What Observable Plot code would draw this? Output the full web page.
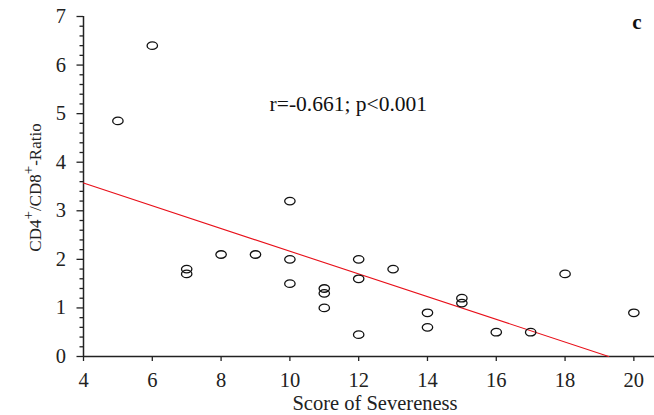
<!DOCTYPE html>
<html>
<head>
<meta charset="utf-8">
<script src="https://cdn.jsdelivr.net/npm/d3@7"></script>
<script src="https://cdn.jsdelivr.net/npm/@observablehq/plot@0.6"></script>
<style>
  html, body { margin: 0; padding: 0; background: #fff; }
  #chart svg { display: block; }
</style>
</head>
<body>
<div id="chart"></div>
<script>
// Data
const severity = [5, 6, 7, 7, 8, 9, 10, 10, 10, 11, 11, 11, 12, 12, 12, 13, 14, 14, 15, 15, 16, 17, 18, 20];
const ratio    = [4.85, 6.4, 1.8, 1.7, 2.1, 2.1, 3.2, 2.0, 1.5, 1.4, 1.3, 1.0, 2.0, 1.6, 0.45, 1.8, 0.9, 0.6, 1.2, 1.1, 0.5, 0.5, 1.7, 0.9];
// Regression line end points
const fitX = [4, 19.27];
const fitY = [3.57, 0];
// Tick values
const xTicks = [4, 6, 8, 10, 12, 14, 16, 18, 20];
const yTicks = [0, 1, 2, 3, 4, 5, 6, 7];
const yMinor = d3.range(0, 35).map(i => i / 5).filter(v => Math.abs(v - Math.round(v)) > 1e-9);
// Texts
const statText = "r=-0.661; p<0.001";
const panelLetter = "c";
const xLabel = "Score of Severeness";

const points = severity.map((s, i) => ({severity: s, ratio: ratio[i]}));
const fit = fitX.map((x, i) => ({x, y: fitY[i]}));

const serif = "Liberation Serif, Times New Roman, serif";

// ellipse-shaped open circle symbol (the reference markers are wider than tall)
const ellipse = {
  draw(ctx, size) {
    const r = Math.sqrt(size / Math.PI);
    const rx = r, ry = r * 0.72, k = 0.5523;
    ctx.moveTo(rx, 0);
    ctx.bezierCurveTo(rx, k * ry, k * rx, ry, 0, ry);
    ctx.bezierCurveTo(-k * rx, ry, -rx, k * ry, -rx, 0);
    ctx.bezierCurveTo(-rx, -k * ry, -k * rx, -ry, 0, -ry);
    ctx.bezierCurveTo(k * rx, -ry, rx, -k * ry, rx, 0);
    ctx.closePath();
  }
};

const chart = Plot.plot({
  width: 654,
  height: 415,
  marginLeft: 83,
  marginRight: 0,
  marginTop: 16,
  marginBottom: 59,
  style: {fontFamily: serif, fontSize: "18px", color: "#222", background: "#fff"},
  x: {domain: [4, 20.6], label: null},
  y: {domain: [0, 7], label: null},
  marks: [
    Plot.axisY(yMinor, {tickSize: 3.5, tickFormat: () => "", strokeWidth: 1.3, label: null}),
    Plot.axisY(yTicks, {tickSize: 6.5, tickPadding: 11, fontSize: 20.5, fontFamily: serif, strokeWidth: 1.3, label: null}),
    Plot.axisX(xTicks, {tickSize: 5, tickPadding: 11, fontSize: 20.5, fontFamily: serif, strokeWidth: 1.3, label: null}),
    Plot.ruleY([0], {stroke: "#222", strokeWidth: 1.5}),
    Plot.ruleX([4], {stroke: "#222", strokeWidth: 1.5}),
    Plot.line(fit, {x: "x", y: "y", stroke: "#e8101a", strokeWidth: 1.1}),
    Plot.dot(points, {x: "severity", y: "ratio", r: 5.2, symbol: ellipse, stroke: "#111", strokeWidth: 1.3, fill: "none"}),
    Plot.text([statText], {x: 9.41, y: 5.2, text: d => d, textAnchor: "start", fontSize: 21.5, fontFamily: serif, fill: "#111"}),
    Plot.text([panelLetter], {frameAnchor: "top-right", text: d => d, dx: -13, dy: -2, lineAnchor: "top", textAnchor: "end", fontSize: 21, fontFamily: serif, fontWeight: "bold", fill: "#111"}),
    Plot.text([xLabel], {frameAnchor: "bottom", text: d => d, dx: 6, dy: 53, lineAnchor: "bottom", fontSize: 20.5, fontFamily: serif, fill: "#222"})
  ]
});

// y-axis label with superscripts
const svg = d3.select(chart);
const yl = svg.append("text")
  .attr("transform", "translate(41,187.5) rotate(-90)")
  .attr("text-anchor", "middle")
  .attr("font-family", serif)
  .attr("font-size", 17)
  .attr("fill", "#222");
yl.append("tspan").text("CD4");
yl.append("tspan").attr("dy", -8).attr("font-size", 15).text("+");
yl.append("tspan").attr("dy", 8).text("/CD8");
yl.append("tspan").attr("dy", -8).attr("font-size", 15).text("+");
yl.append("tspan").attr("dy", 8).text("-Ratio");

document.getElementById("chart").appendChild(chart);
</script>
</body>
</html>
